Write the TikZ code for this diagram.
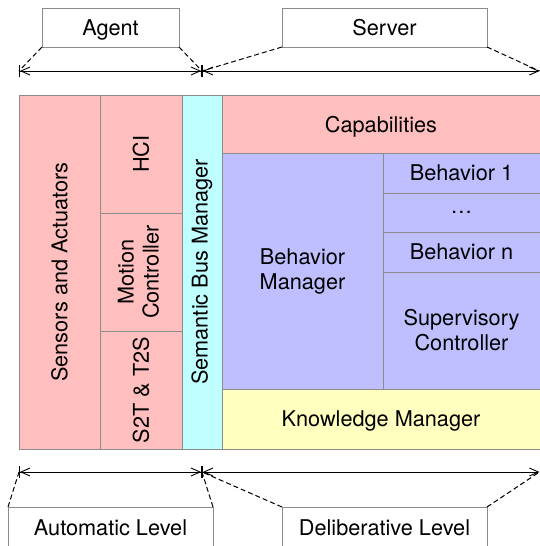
\documentclass[tikz,border=0pt]{standalone}
\usepackage{fontspec}
\setmainfont{TeX Gyre Heros}
\usetikzlibrary{arrows.meta}
\definecolor{pinkc}{HTML}{FFBFBF}
\definecolor{cyanc}{HTML}{BFFFFF}
\definecolor{lavc}{HTML}{BFBFFF}
\definecolor{yelc}{HTML}{FFFFC0}
\definecolor{edgec}{HTML}{8C8C8C}
\begin{document}
\begin{tikzpicture}[x=1pt,y=-1pt,
  blk/.style={draw=edgec,line width=1pt,inner sep=0pt,outer sep=0pt,align=center,
    font=\fontsize{21.7}{25}\selectfont},
  one/.style={text depth=0pt},
  lbl/.style={blk,one,fill=white},
  dim/.style={line width=0.9pt},
  guide/.style={line width=1pt,dash pattern=on 5pt off 3pt}]
\useasboundingbox (0,0) rectangle (540,546);
% main blocks
\node[blk,fill=pinkc,minimum width=81pt,minimum height=354pt] (sens) at (59.5,272) {\rotatebox{90}{Sensors and Actuators}};
\node[blk,fill=pinkc,minimum width=82pt,minimum height=118pt] (hci) at (141,154) {\rotatebox{90}{HCI}};
\node[blk,fill=pinkc,minimum width=82pt,minimum height=118pt] (mot) at (141,272) {\rotatebox{90}{\begin{tabular}{@{}c@{}}Motion\\Controller\end{tabular}}};
\node[blk,fill=pinkc,minimum width=82pt,minimum height=118pt] (s2t) at (141,390) {\rotatebox{90}{S2T \& T2S}};
\node[blk,fill=cyanc,minimum width=40pt,minimum height=354pt] (sbm) at (202,272) {\rotatebox{90}{Semantic Bus Manager}};
\node[blk,one,fill=pinkc,minimum width=318pt,minimum height=58pt] (cap) at (381,124) {Capabilities};
\node[blk,fill=lavc,minimum width=161pt,minimum height=236pt] (bm) at (302.5,271) {Behavior\\Manager};
\node[blk,one,fill=lavc,minimum width=157pt,minimum height=40pt] (b1) at (461.5,173) {Behavior 1};
\node[blk,one,fill=lavc,minimum width=157pt,minimum height=39pt] (bd) at (461.5,212.5) {\dots};
\node[blk,one,fill=lavc,minimum width=157pt,minimum height=40pt] (bn) at (461.5,252) {Behavior n};
\node[blk,fill=lavc,minimum width=157pt,minimum height=117pt] (sup) at (461.5,330.5) {Supervisory\\Controller};
\node[blk,one,fill=yelc,minimum width=318pt,minimum height=60pt] (km) at (381,419) {Knowledge Manager};
% label boxes
\node[lbl,minimum width=137pt,minimum height=39pt] (agent) at (110.5,27.5) {Agent};
\node[lbl,minimum width=205pt,minimum height=39pt] (server) at (384.5,27.5) {Server};
\node[lbl,minimum width=205pt,minimum height=41pt] (auto) at (110.5,527.5) {Automatic Level};
\node[lbl,minimum width=205pt,minimum height=41pt] (delib) at (384.5,527.5) {Deliberative Level};
% dimension coordinates
\coordinate (t1) at (19,71);
\coordinate (t2) at (202,71);
\coordinate (t3) at (539.5,71);
\coordinate (u1) at (19,472);
\coordinate (u2) at (202,472);
\coordinate (u3) at (539.5,472);
\draw[dim,{Bar[width=12pt]Straight Barb[length=9pt,width=8pt]}-{Straight Barb[length=9pt,width=8pt]Bar[width=12pt]}] (t1) -- (t2);
\draw[dim,{Bar[width=12pt]Straight Barb[length=9pt,width=8pt]}-{Straight Barb[length=9pt,width=8pt]}] (t2) -- (t3);
\draw[dim,{Bar[width=12pt]Straight Barb[length=9pt,width=8pt]}-{Straight Barb[length=9pt,width=8pt]Bar[width=12pt]}] (u1) -- (u2);
\draw[dim,{Bar[width=12pt]Straight Barb[length=9pt,width=8pt]}-{Straight Barb[length=9pt,width=8pt]}] (u2) -- (u3);
\draw[guide] (agent.south west) -- (t1);
\draw[guide] (agent.south east) -- (t2);
\draw[guide] (server.south west) -- (t2);
\draw[guide] (server.south east) -- (t3);
\draw[guide] (auto.north west) -- (u1);
\draw[guide] (auto.north east) -- (u2);
\draw[guide] (delib.north west) -- (u2);
\draw[guide] (delib.north east) -- (u3);
\end{tikzpicture}
\end{document}
